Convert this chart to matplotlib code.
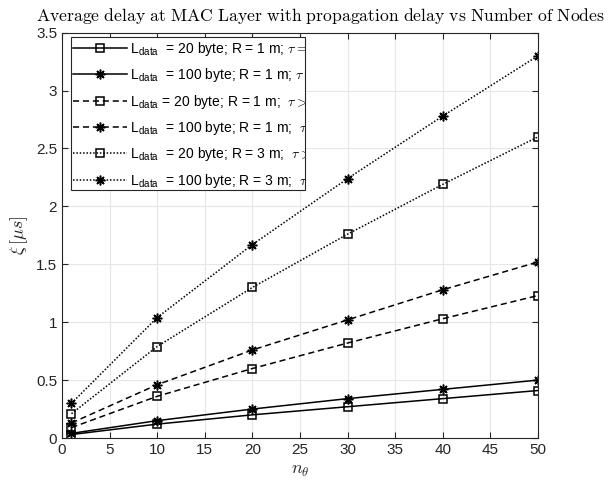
import matplotlib
matplotlib.use('Agg')
import matplotlib.pyplot as plt
from matplotlib.patches import Rectangle

plt.rcParams['font.family'] = ['Liberation Sans', 'DejaVu Sans']
plt.rcParams['mathtext.fontset'] = 'cm'

nodes = [1, 10, 20, 30, 40, 50]

d20_r1_t0 = [0.03, 0.12, 0.20, 0.27, 0.34, 0.41]
d100_r1_t0 = [0.04, 0.15, 0.25, 0.34, 0.42, 0.50]
d20_r1_tp = [0.09, 0.36, 0.60, 0.82, 1.03, 1.23]
d100_r1_tp = [0.13, 0.46, 0.76, 1.02, 1.28, 1.52]
d20_r3_tp = [0.21, 0.79, 1.30, 1.76, 2.19, 2.60]
d100_r3_tp = [0.30, 1.04, 1.67, 2.24, 2.78, 3.30]

labels = [
    r'L$_{\mathregular{data}}$  = 20 byte; R = 1 m; $\tau = 0$',
    r'L$_{\mathregular{data}}$  = 100 byte; R = 1 m; $\tau = 0$',
    r'L$_{\mathregular{data}}$ = 20 byte; R = 1 m;  $\tau > 0$',
    r'L$_{\mathregular{data}}$  = 100 byte; R = 1 m;  $\tau > 0$',
    r'L$_{\mathregular{data}}$  = 20 byte; R = 3 m;  $\tau > 0$',
    r'L$_{\mathregular{data}}$  = 100 byte; R = 3 m;  $\tau > 0$',
]

series = [d20_r1_t0, d100_r1_t0, d20_r1_tp, d100_r1_tp, d20_r3_tp, d100_r3_tp]
styles = ['-', '-', (0, (4, 2.5)), (0, (4, 2.5)), (0, (1, 1.2)), (0, (1, 1.2))]
star = (8, 2, 0)
markers = ['s', star, 's', star, 's', star]

fig = plt.figure(figsize=(6.1, 4.87), dpi=100)
ax = fig.add_axes([0.1016, 0.1006, 0.7803, 0.8324])

for y, ls, mk, lab in zip(series, styles, markers, labels):
    ax.plot(nodes, y, linestyle=ls, marker=mk, color='k', lw=1.1,
            markersize=6 if mk == 's' else 7, markerfacecolor='none',
            markeredgewidth=1.1, label=lab)

ax.set_xlim(0, 50)
ax.set_ylim(0, 3.5)
ax.set_xticks(range(0, 51, 5))
ax.set_yticks([0, 0.5, 1, 1.5, 2, 2.5, 3, 3.5])
ax.set_yticklabels(['0', '0.5', '1', '1.5', '2', '2.5', '3', '3.5'])
ax.grid(True, color='#e6e6e6', lw=0.8)
ax.tick_params(direction='in', top=True, right=True, labelsize=11,
               colors='#262626', length=4)
for s in ax.spines.values():
    s.set_color('#262626')
    s.set_linewidth(0.8)

ax.set_xlabel(r'$n_\theta$', fontsize=13, color='#262626')
ax.set_ylabel(r'$\xi\,[\mu s]$', fontsize=13, color='#262626')

fig.text(0.526, 0.968,
         r'$\mathrm{Average\ delay\ at\ MAC\ Layer\ with\ propagation\ delay\ vs\ Number\ of\ Nodes}$',
         ha='center', va='center', fontsize=12.7)

# legend box is narrower than its texts (clipped, like the original)
box = Rectangle((71 / 610, 1 - 190 / 487), 234 / 610, 153 / 487,
                transform=fig.transFigure, facecolor='white',
                edgecolor='#262626', lw=0.8, zorder=3)
fig.add_artist(box)

handles, labs = ax.get_legend_handles_labels()
leg = fig.legend(handles, labs, loc='upper left',
                 bbox_to_anchor=(73 / 610, 1 - 40 / 487),
                 fontsize=10, handlelength=3.9, frameon=False,
                 borderpad=0, borderaxespad=0, labelspacing=0.6,
                 handletextpad=0.2)
leg.set_zorder(4)
for t in leg.get_texts():
    t.set_clip_path(box)
    t.set_clip_on(True)

fig.savefig('out.png', dpi=100)
